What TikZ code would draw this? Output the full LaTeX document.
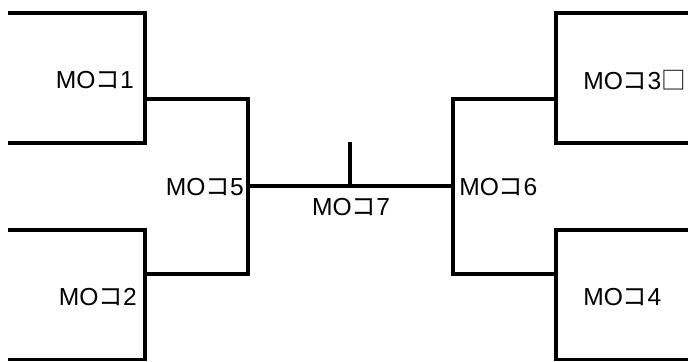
\documentclass[tikz,border=0pt]{standalone}
\usepackage{fontspec}
\setmainfont{Liberation Sans}
\newfontfamily\cjk{Noto Sans CJK JP}
\usepackage{tikz}
\usetikzlibrary{positioning,calc}
\newcommand{\ko}{{\cjk コ}}
\tikzset{wire/.style={line width=2.3pt, line cap=rect, line join=miter},
	tag/.style={inner sep=0pt, font=\fontsize{17.5pt}{20pt}\selectfont}}

\begin{document}
\begin{tikzpicture}[x=0.025cm,y=-0.025cm]
		\useasboundingbox (0,0) rectangle (688,361);
		% units
		\draw[wire] (10,13) -- (145,13) -- (145,143) -- (10,143);
		\draw[wire] (10,230) -- (145,230) -- (145,359.5) -- (10,359.5);
		\draw[wire] (690,13) -- (556,13) -- (556,143) -- (690,143);
		\draw[wire] (690,230) -- (556,230) -- (556,359.5) -- (690,359.5);
		\node[tag,anchor=east] (mo1) at (134,80) {MO\ko1};
		\node[tag,anchor=east] (mo2) at (137,297) {MO\ko2};
		\node[tag,anchor=west] (mo3) at (583,80) {MO\ko3{\cjk □}};
		\node[tag,anchor=west] (mo4) at (583,297) {MO\ko4};
		% junctions
		\coordinate (a1) at (145,99);
		\coordinate (a2) at (145,274);
		\coordinate (a3) at (556,99);
		\coordinate (a4) at (556,274);
		\coordinate (hub5) at (248,186);
		\coordinate (hub6) at (453,186);
		\coordinate (tick) at (350,144);
		\node[tag,anchor=east] (mo5) at (244,187) {MO\ko5};
		\node[tag,anchor=west] (mo6) at (459,187) {MO\ko6};
		\node[tag] (mo7) at (351,207) {MO\ko7};
		\draw[wire] (a1) -| (hub5) |- (a2);
		\draw[wire] (a3) -| (hub6) |- (a4);
		\draw[wire] (hub5) -- (hub6);
		\draw[wire] (tick) -- (tick |- hub5);
\end{tikzpicture}
\end{document}
